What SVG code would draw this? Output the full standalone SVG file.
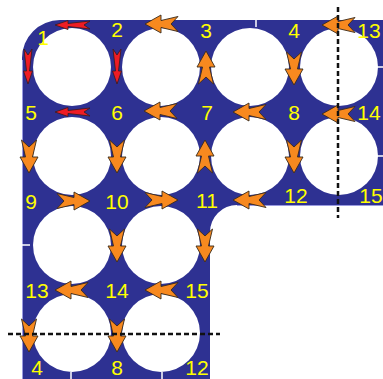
<svg xmlns="http://www.w3.org/2000/svg" xmlns:xlink="http://www.w3.org/1999/xlink" width="383" height="379" viewBox="0 0 383 379">
<style>
.lbl{font-family:"Liberation Sans",Arial,sans-serif;font-size:21px;fill:#ffff00;text-anchor:middle}
.hole{fill:#ffffff}
.org{fill:#f7891f;stroke:#3a2a1a;stroke-width:0.9;stroke-linejoin:miter}
.red{fill:#ee1c24;stroke:#3a1a1a;stroke-width:0.8}
.dash{stroke:#111;stroke-width:2.5;stroke-dasharray:5,3;fill:none}
.tick{stroke:#ffffff;stroke-width:1.5}
.edge{stroke:#9a9ae0;stroke-width:1;fill:none}
</style>
<defs>
<path id="ao" d="M0,0 L16,-9 L16,-3.5 L33,-7.5 L26,0 L33,7.5 L16,3.5 L16,9 Z"/>
<path id="ar" d="M0,0 L13,-4.5 L13,-1.5 L35,-4 L29,0 L35,4 L13,1.5 L13,4.5 Z"/>
</defs>
<rect width="383" height="379" fill="#ffffff"/>
<g id="board">
<path d="M22,58 A38,38 0 0 1 60,20 L383,20 L383,205 L237,205 A27,27 0 0 0 210,232 L210,379 L22,379 Z" fill="#2e3192"/>
<path class="edge" d="M22.5,60 L22.5,379 M237,205.5 L383,205.5"/>
<g class="hole">
<circle cx="72" cy="67" r="39"/><circle cx="161" cy="67" r="39"/><circle cx="250" cy="67" r="39"/><circle cx="339" cy="67" r="39"/>
<circle cx="72" cy="156" r="39"/><circle cx="161" cy="156" r="39"/><circle cx="250" cy="156" r="39"/><circle cx="339" cy="156" r="39"/>
<circle cx="72" cy="245" r="39"/><circle cx="161" cy="245" r="39"/>
<circle cx="72" cy="333" r="39"/><circle cx="161" cy="333" r="39"/>
</g>
<g class="tick">
<line x1="256" y1="20" x2="256" y2="27"/>
<line x1="376" y1="67" x2="383" y2="67"/>
<line x1="376" y1="156" x2="383" y2="156"/>
<line x1="22" y1="245" x2="30" y2="245"/>
<line x1="71" y1="372" x2="71" y2="379"/>
<line x1="162" y1="372" x2="162" y2="379"/>
</g>
</g>
<g id="labels">
<text class="lbl" x="43" y="45">1</text>
<text class="lbl" x="117" y="37">2</text>
<text class="lbl" x="206" y="38">3</text>
<text class="lbl" x="294" y="38">4</text>
<text class="lbl" x="369" y="38">13</text>
<text class="lbl" x="31" y="120">5</text>
<text class="lbl" x="117" y="120">6</text>
<text class="lbl" x="207" y="120">7</text>
<text class="lbl" x="294" y="120">8</text>
<text class="lbl" x="369" y="120">14</text>
<text class="lbl" x="31" y="209">9</text>
<text class="lbl" x="117" y="209">10</text>
<text class="lbl" x="207" y="208">11</text>
<text class="lbl" x="296" y="203">12</text>
<text class="lbl" x="371" y="203">15</text>
<text class="lbl" x="37" y="298">13</text>
<text class="lbl" x="117" y="298">14</text>
<text class="lbl" x="197" y="298">15</text>
<text class="lbl" x="37" y="375">4</text>
<text class="lbl" x="117" y="375">8</text>
<text class="lbl" x="197" y="375">12</text>
</g>
<g id="connectors">
<use xlink:href="#ar" class="red" transform="translate(55,25)"/>
<use xlink:href="#ar" class="red" transform="translate(28,84) rotate(-90)"/>
<use xlink:href="#ar" class="red" transform="translate(117,84) rotate(-90)"/>
<use xlink:href="#ar" class="red" transform="translate(55,112)"/>
<use xlink:href="#ao" class="org" transform="translate(145,24)"/>
<use xlink:href="#ao" class="org" transform="translate(206,51) rotate(90)"/>
<use xlink:href="#ao" class="org" transform="translate(144,111)"/>
<use xlink:href="#ao" class="org" transform="translate(233,112)"/>
<use xlink:href="#ao" class="org" transform="translate(322,25)"/>
<use xlink:href="#ao" class="org" transform="translate(294,85) rotate(-90)"/>
<use xlink:href="#ao" class="org" transform="translate(322,114)"/>
<use xlink:href="#ao" class="org" transform="translate(29,173) rotate(-90)"/>
<use xlink:href="#ao" class="org" transform="translate(117,173) rotate(-90)"/>
<use xlink:href="#ao" class="org" transform="translate(90,201) rotate(180)"/>
<use xlink:href="#ao" class="org" transform="translate(178,200) rotate(180)"/>
<use xlink:href="#ao" class="org" transform="translate(205,140) rotate(90)"/>
<use xlink:href="#ao" class="org" transform="translate(233,200)"/>
<use xlink:href="#ao" class="org" transform="translate(294,173) rotate(-90)"/>
<use xlink:href="#ao" class="org" transform="translate(117,262) rotate(-90)"/>
<use xlink:href="#ao" class="org" transform="translate(205,262) rotate(-90)"/>
<use xlink:href="#ao" class="org" transform="translate(55,290)"/>
<use xlink:href="#ao" class="org" transform="translate(145,290)"/>
<use xlink:href="#ao" class="org" transform="translate(29,352) rotate(-90)"/>
<use xlink:href="#ao" class="org" transform="translate(117,352) rotate(-90)"/>
</g>
<g id="cuts">
<line class="dash" x1="338" y1="7" x2="338" y2="218"/>
<line class="dash" x1="8" y1="334" x2="220" y2="334"/>
</g>
</svg>
